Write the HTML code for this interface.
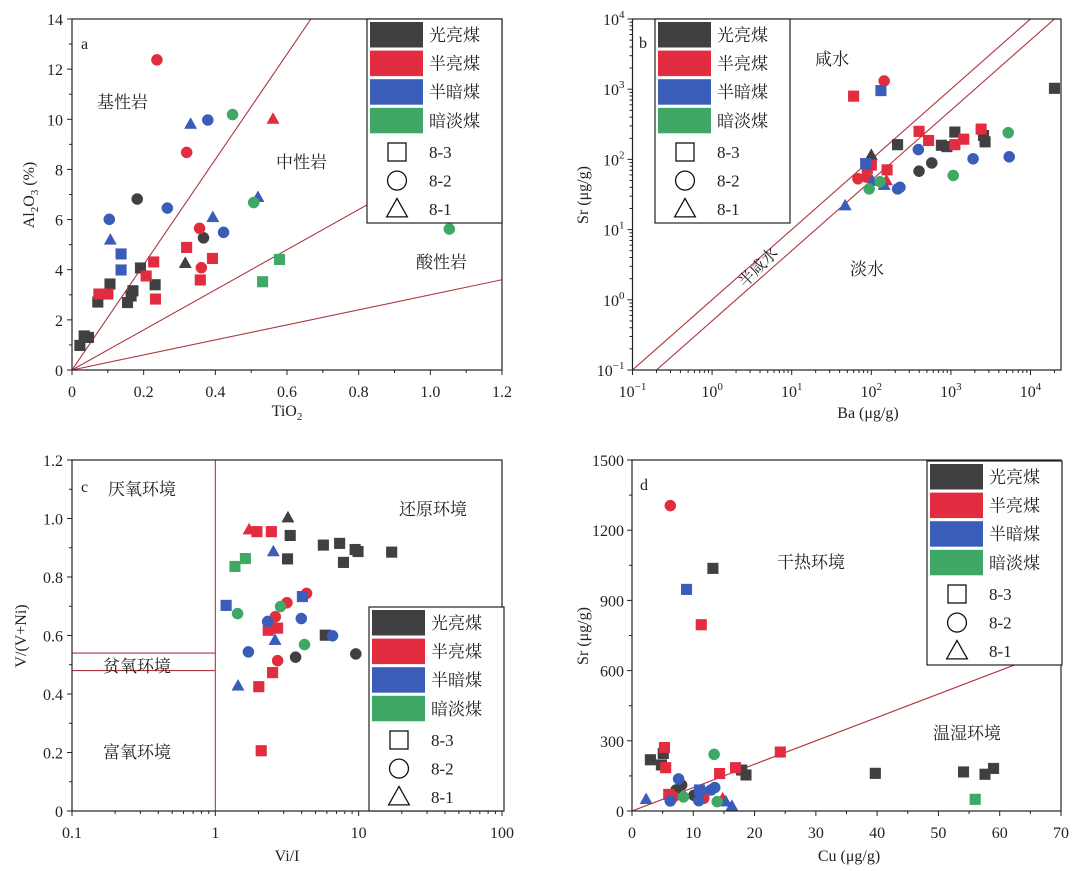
<!DOCTYPE html>
<html><head><meta charset="utf-8">
<style>
html,body{margin:0;padding:0;background:#fff;}
svg{display:block;font-family:"Liberation Serif","Noto Serif CJK SC","Noto Sans CJK SC",serif;}
</style></head>
<body>
<svg id="fig" width="1080" height="871" viewBox="0 0 1080 871" xmlns="http://www.w3.org/2000/svg"></svg>
<script>
// ---------- data ----------
const groupNames = ["光亮煤","半亮煤","半暗煤","暗淡煤"];
const groupColors = ["#404042","#e22c3f","#3a5dba","#3fa867"];
const shapeNames = ["8-3","8-2","8-1"]; // square, circle, triangle

// Panel a: TiO2 vs Al2O3
const aGroup = [0,0,0,0,0,0,0,0,0,0, 0,0, 0, 1,1,1,1,1,1,1,1, 1,1,1,1, 1, 2,2, 2,2,2,2, 2,2,2,2, 3,3,3, 3,3];
const aShape = [0,0,0,0,0,0,0,0,0,0, 1,1, 2, 0,0,0,0,0,0,0,0, 1,1,1,1, 2, 0,0, 1,1,1,1, 2,2,2,2, 1,1,1, 0,0];
const aX = [0.022,0.034,0.046,0.072,0.106,0.155,0.165,0.17,0.191,0.232, 0.182,0.367, 0.316, 0.075,0.1,0.207,0.228,0.233,0.32,0.358,0.392, 0.237,0.32,0.356,0.361, 0.561, 0.137,0.137, 0.104,0.266,0.379,0.423, 0.107,0.331,0.393,0.519, 0.448,0.507,1.053, 0.532,0.579];
const aY = [0.98,1.36,1.30,2.71,3.43,2.69,2.95,3.16,4.07,3.40, 6.82,5.27, 4.26, 3.03,3.03,3.75,4.31,2.83,4.89,3.59,4.45, 12.37,8.68,5.65,4.08, 10.01, 4.63,3.99, 6.01,6.46,9.97,5.49, 5.19,9.81,6.09,6.89, 10.19,6.68,5.62, 3.52,4.41];
const aXTicks = [0,0.2,0.4,0.6,0.8,1.0,1.2];
const aXTickLabels = ["0","0.2","0.4","0.6","0.8","1.0","1.2"];
const aYTicks = [0,2,4,6,8,10,12,14];
const aLineSlopes = [21,8,3];

// Panel b: Ba vs Sr (log-log)
const bGroup = [0,0,0,0,0,0,0, 0, 0,0, 1,1,1,1,1,1,1,1,1, 1,1,1, 1, 2,2, 2,2,2,2,2, 2,2,2, 3,3,3,3];
const bShape = [0,0,0,0,0,0,0, 2, 1,1, 0,0,0,0,0,0,0,0,0, 1,1,1, 2, 0,0, 1,1,1,1,1, 2,2,2, 1,1,1,1];
const bX = [20000,214,1120,760,890,2570,2690, 100, 398,575, 60,398,525,1120,1450,2400,158,100,89, 145,68,87, 155, 132,85, 390,1900,5400,214,229, 47,103,145, 5250,1070,94,129];
const bY = [1030,162,245,159,152,219,178, 115, 68,89, 795,251,186,162,194,270,71,83,74, 1310,53,56, 50, 955,87, 138,102,109,38,40, 22,49,43, 240,59,38,48];
const bTickExp = ["-1","0","1","2","3","4"];
const bLineRatios = [1,0.5];

// Panel c: Vi/I vs V/(V+Ni)
const cGroup = [0,0,0,0,0,0,0,0,0,0,0,0, 1,1,1,1,1,1,1,1,1,1,1,1, 2,2,2,2,2,2,2,2,2, 3,3,3,3,3];
const cShape = [2,0,0,0,0,0,0,0,0,0,1,1, 2,0,0,0,0,0,0,0,1,1,1,1, 2,2,2,0,0,1,1,1,1, 0,0,1,1,1];
const cX = [3.21,3.33,3.19,5.67,7.37,7.83,9.45,9.9,17.0,5.85,3.63,9.55, 1.72,1.95,2.46,2.34,2.72,2.51,2.01,2.09,4.33,3.16,2.62,2.72, 2.54,2.61,1.44,1.19,4.05,2.32,3.98,6.57,1.70, 1.37,1.62,1.43,2.85,4.19];
const cY = [1.003,0.942,0.862,0.909,0.915,0.850,0.894,0.887,0.885,0.601,0.526,0.537, 0.962,0.955,0.955,0.618,0.625,0.473,0.425,0.206,0.744,0.712,0.664,0.514, 0.887,0.584,0.428,0.703,0.733,0.648,0.658,0.599,0.544, 0.836,0.863,0.675,0.699,0.569];
const cYTicks = [0,0.2,0.4,0.6,0.8,1.0,1.2];
const cYTickLabels = ["0","0.2","0.4","0.6","0.8","1.0","1.2"];
const cXTicks = [0.1,1,10,100];
const cXTickLabels = ["0.1","1","10","100"];
const cHLines = [0.54,0.48];
const cVLine = 1;

// Panel d: Cu vs Sr
const dGroup = [0,0,0,0,0,0,0,0,0,0, 0,0,0, 1,1,1,1,1,1,1,1, 1,1,1, 1, 2,2, 2,2,2,2,2, 2,2,2, 3,3,3, 3];
const dShape = [0,0,0,0,0,0,0,0,0,0, 1,1,1, 0,0,0,0,0,0,0,0, 1,1,1, 2, 0,0, 1,1,1,1,1, 2,2,2, 1,1,1, 0];
const dX = [3.0,4.8,5.1,13.2,17.9,18.6,39.7,54.1,57.6,59.0, 7.2,8.1,10.1, 5.3,5.5,11.3,14.3,16.9,24.2,6.0,11.7, 6.25,6.8,11.7, 14.8, 8.9,11.0, 7.6,6.25,13.5,12.9,10.9, 2.3,15.3,16.3, 13.4,8.4,13.9, 56.0];
const dY = [219,197,246,1037,175,154,161,167,157,182, 90,111,67, 271,185,796,160,185,252,71,80, 1305,61,54, 53, 947,90, 137,43,100,90,44, 50,40,21, 242,60,40, 50];
const dXTicks = [0,10,20,30,40,50,60,70];
const dYTicks = [0,300,600,900,1200,1500];
const dLineSlope = 10;

// ---------- helpers ----------
const NS="http://www.w3.org/2000/svg";
const svg=document.getElementById('fig');
function mk(tag,attrs,parent){const e=document.createElementNS(NS,tag);for(const k in attrs)e.setAttribute(k,attrs[k]);(parent||svg).appendChild(e);return e;}
function txt(x,y,s,size,anchor,parent,fam){const t=mk('text',{x:x,y:y,'font-size':size,'text-anchor':anchor||'start',fill:'#222'},parent);if(fam)t.setAttribute('font-family',fam);t.textContent=s;return t;}
const CJK='"Noto Serif CJK SC","Noto Sans CJK SC","Liberation Serif",serif';

function marker(g,shape,cx,cy,color,r,parent,filled){
  let e;
  const fill=filled===false?'none':color, stroke=filled===false?'#111':color;
  if(shape===0) e=mk('rect',{x:cx-r,y:cy-r,width:2*r,height:2*r,fill:fill,stroke:stroke,'stroke-width':filled===false?1.3:0.5},parent);
  else if(shape===1) e=mk('circle',{cx:cx,cy:cy,r:r*1.05,fill:fill,stroke:stroke,'stroke-width':filled===false?1.3:0.5},parent);
  else e=mk('polygon',{points:`${cx},${cy-r*1.2} ${cx-r*1.15},${cy+r*0.85} ${cx+r*1.15},${cy+r*0.85}`,fill:fill,stroke:stroke,'stroke-width':filled===false?1.3:0.5},parent);
  return e;
}

function frame(L,T,R,B,parent){mk('rect',{x:L,y:T,width:R-L,height:B-T,fill:'none',stroke:'#222','stroke-width':1.2},parent);}
function tickX(x,B,len,parent){mk('line',{x1:x,y1:B,x2:x,y2:B+len,stroke:'#222','stroke-width':1},parent);}
function tickY(y,L,len,parent){mk('line',{x1:L,y1:y,x2:L-len,y2:y,stroke:'#222','stroke-width':1},parent);}

function legend(bx,by,parent,name){
  const g=mk('g',{},parent);
  
  
  mk('rect',{x:bx,y:by,width:135,height:204,fill:'#fff',stroke:'#222','stroke-width':1.2},g);
  for(let i=0;i<4;i++){
    const e=mk('g',{},g);
    
    
    mk('rect',{x:bx+3,y:by+3+i*28.6,width:53,height:25.5,fill:groupColors[i]},e);
    txt(bx+62,by+3+i*28.6+19,groupNames[i],17,'start',e,CJK);
  }
  for(let j=0;j<3;j++){
    const e=mk('g',{},g);
    
    
    const cy=by+133+j*28.6;
    marker(0,j,bx+30,cy,'#111',9,e,false);
    txt(bx+62,cy+6,shapeNames[j],17,'start',e);
  }
}
function points(G,S,X,Y,fx,fy,parent){
  for(let i=0;i<X.length;i++){
    const m=marker(0,S[i],fx(X[i]),fy(Y[i]),groupColors[G[i]],5.3,parent);
    
    
  }
}
const LINE='#b0353f';
const TL=27; // tick label baseline offset

// ---------- Panel a ----------
(function(){
  const g=mk('g',{});
  
  
  const L=72,R=502,T=19,B=370;
  const fx=v=>L+(v/1.2)*(R-L), fy=v=>B-(v/14)*(B-T);
  const clip=mk('clipPath',{id:'ca'},g);mk('rect',{x:L,y:T,width:R-L,height:B-T},clip);
  const lg=mk('g',{'clip-path':'url(#ca)'},g);
  aLineSlopes.forEach(s=>{const l=mk('line',{x1:fx(0),y1:fy(0),x2:fx(1.2),y2:fy(1.2*s),stroke:LINE,'stroke-width':1.1},lg);});
  for(let i=0;i<=12;i++){tickX(fx(i*0.1),B,i%2===0?5:3,g);}
  for(let v=0;v<=14;v++){tickY(fy(v),L,v%2===0?5:3,g);}
  aXTicks.forEach((v,i)=>txt(fx(v),B+TL,aXTickLabels[i],16,'middle',g));
  aYTicks.forEach(v=>txt(L-9,fy(v)+6,String(v),16,'end',g));
  const xt=mk('text',{x:fx(0.6),y:416,'font-size':16,'text-anchor':'middle',fill:'#222'},g);
  
  xt.innerHTML='TiO<tspan font-size="11" dy="4">2</tspan>';
  const yt=mk('text',{x:0,y:0,'font-size':16,'text-anchor':'middle',fill:'#222',transform:'translate(34,195) rotate(-90)'},g);
  
  yt.innerHTML='Al<tspan font-size="11" dy="4">2</tspan><tspan dy="-4">O</tspan><tspan font-size="11" dy="4">3</tspan><tspan dy="-4"> (%)</tspan>';
  txt(81,49,'a',16,'start',g);
  txt(97,108,'基性岩',17,'start',g,CJK);
  txt(276,168,'中性岩',17,'start',g,CJK);
  txt(416,268,'酸性岩',17,'start',g,CJK);
  const pg=mk('g',{},g);
  points(aGroup,aShape,aX,aY,fx,fy,pg);
  frame(L,T,R,B,g);
  legend(367,19,g,'legend-a');
})();

// ---------- Panel b ----------
(function(){
  const g=mk('g',{});
  
  
  const L=632.5,R=1061,T=19,B=370, dec=79.6;
  const fx=v=>L+(Math.log10(v)+1)*dec, fy=v=>B-(Math.log10(v)+1)*(B-T)/5;
  const clip=mk('clipPath',{id:'cb'},g);mk('rect',{x:L,y:T,width:R-L,height:B-T},clip);
  const lg=mk('g',{'clip-path':'url(#cb)'},g);
  bLineRatios.forEach(r=>{const l=mk('line',{x1:fx(0.1),y1:fy(0.1*r),x2:fx(1e5),y2:fy(1e5*r),stroke:LINE,'stroke-width':1.1},lg);});
  for(let e=-1;e<=4;e++){
    for(let k=1;k<10;k++){const v=k*Math.pow(10,e);
      if(fx(v)<=R+0.5) tickX(fx(v),B,k===1?5:3,g);
      if(e<4) tickY(fy(v),L,k===1?5:3,g);}
  }
  tickY(fy(1e4),L,5,g);
  bTickExp.forEach((p,i)=>{
    const v=Math.pow(10,Number(p));
    const t=mk('text',{x:fx(v),y:B+TL,'font-size':16,'text-anchor':'middle',fill:'#222'},g);
    t.innerHTML='10<tspan font-size="11" dy="-7">'+p.replace('-','−')+'</tspan>';
    const t2=mk('text',{x:L-8,y:fy(v)+6,'font-size':16,'text-anchor':'end',fill:'#222'},g);
    t2.innerHTML='10<tspan font-size="11" dy="-7">'+p.replace('-','−')+'</tspan>';
  });
  const xt=txt(868,418,'Ba (μg/g)',16,'middle',g);
  const yt=mk('text',{x:0,y:0,'font-size':16,'text-anchor':'middle',fill:'#222',transform:'translate(588,195) rotate(-90)'},g);
  yt.textContent='Sr (μg/g)';
  txt(639,48,'b',16,'start',g);
  txt(815,65,'咸水',17,'start',g,CJK);
  txt(850,275,'淡水',17,'start',g,CJK);
  txt(0,0,'半咸水',16,'middle',g,CJK).setAttribute('transform','translate(762,271) rotate(-45)');
  const pg=mk('g',{},g);
  points(bGroup,bShape,bX,bY,fx,fy,pg);
  frame(L,T,R,B,g);
  legend(655,19,g,'legend-b');
})();

// ---------- Panel c ----------
(function(){
  const g=mk('g',{});
  
  
  const L=72,R=502,T=460,B=811, dec=(R-L)/3;
  const fx=v=>L+(Math.log10(v)+1)*dec, fy=v=>B-(v/1.2)*(B-T);
  const lg=mk('g',{},g);
  cHLines.forEach(v=>mk('line',{x1:L,y1:fy(v),x2:fx(cVLine),y2:fy(v),stroke:LINE,'stroke-width':1.1},lg));
  mk('line',{x1:fx(cVLine),y1:T,x2:fx(cVLine),y2:B,stroke:LINE,'stroke-width':1.1},lg);
  for(let e=-1;e<=1;e++)for(let k=1;k<10;k++)tickX(fx(k*Math.pow(10,e)),B,k===1?5:3,g);
  tickX(fx(100),B,5,g);
  for(let i=0;i<=12;i++)tickY(fy(i*0.1),L,i%2===0?5:3,g);
  cXTicks.forEach((v,i)=>txt(fx(v),B+TL,cXTickLabels[i],16,'middle',g));
  cYTicks.forEach((v,i)=>txt(L-9,fy(v)+6,cYTickLabels[i],16,'end',g));
  const xt=txt(287,861,'Vi/I',16,'middle',g);
  const yt=mk('text',{x:0,y:0,'font-size':16,'text-anchor':'middle',fill:'#222',transform:'translate(26,636) rotate(-90)'},g);
  yt.textContent='V/(V+Ni)';
  txt(81,492,'c',16,'start',g);
  txt(108,495,'厌氧环境',17,'start',g,CJK);
  txt(399,515,'还原环境',17,'start',g,CJK);
  txt(103,672,'贫氧环境',17,'start',g,CJK);
  txt(103,758,'富氧环境',17,'start',g,CJK);
  const pg=mk('g',{},g);
  points(cGroup,cShape,cX,cY,fx,fy,pg);
  frame(L,T,R,B,g);
  legend(369,607,g,'legend-c');
})();

// ---------- Panel d ----------
(function(){
  const g=mk('g',{});
  
  
  const L=632,R=1061,T=460,B=811;
  const fx=v=>L+(v/70)*(R-L), fy=v=>B-(v/1500)*(B-T);
  const l=mk('line',{x1:fx(0),y1:fy(0),x2:fx(70),y2:fy(70*dLineSlope),stroke:LINE,'stroke-width':1.1},g);
  
  for(let v=0;v<=70;v+=5)tickX(fx(v),B,v%10===0?5:3,g);
  for(let v=0;v<=1500;v+=150)tickY(fy(v),L,v%300===0?5:3,g);
  dXTicks.forEach(v=>txt(fx(v),B+TL,String(v),16,'middle',g));
  dYTicks.forEach(v=>txt(L-8,fy(v)+6,String(v),16,'end',g));
  const xt=txt(849,861,'Cu (μg/g)',16,'middle',g);
  const yt=mk('text',{x:0,y:0,'font-size':16,'text-anchor':'middle',fill:'#222',transform:'translate(588,636) rotate(-90)'},g);
  yt.textContent='Sr (μg/g)';
  txt(640,490,'d',16,'start',g);
  txt(777,568,'干热环境',17,'start',g,CJK);
  txt(933,739,'温湿环境',17,'start',g,CJK);
  const pg=mk('g',{},g);
  points(dGroup,dShape,dX,dY,fx,fy,pg);
  frame(L,T,R,B,g);
  legend(927,461,g,'legend-d');
})();
</script>
</body></html>
